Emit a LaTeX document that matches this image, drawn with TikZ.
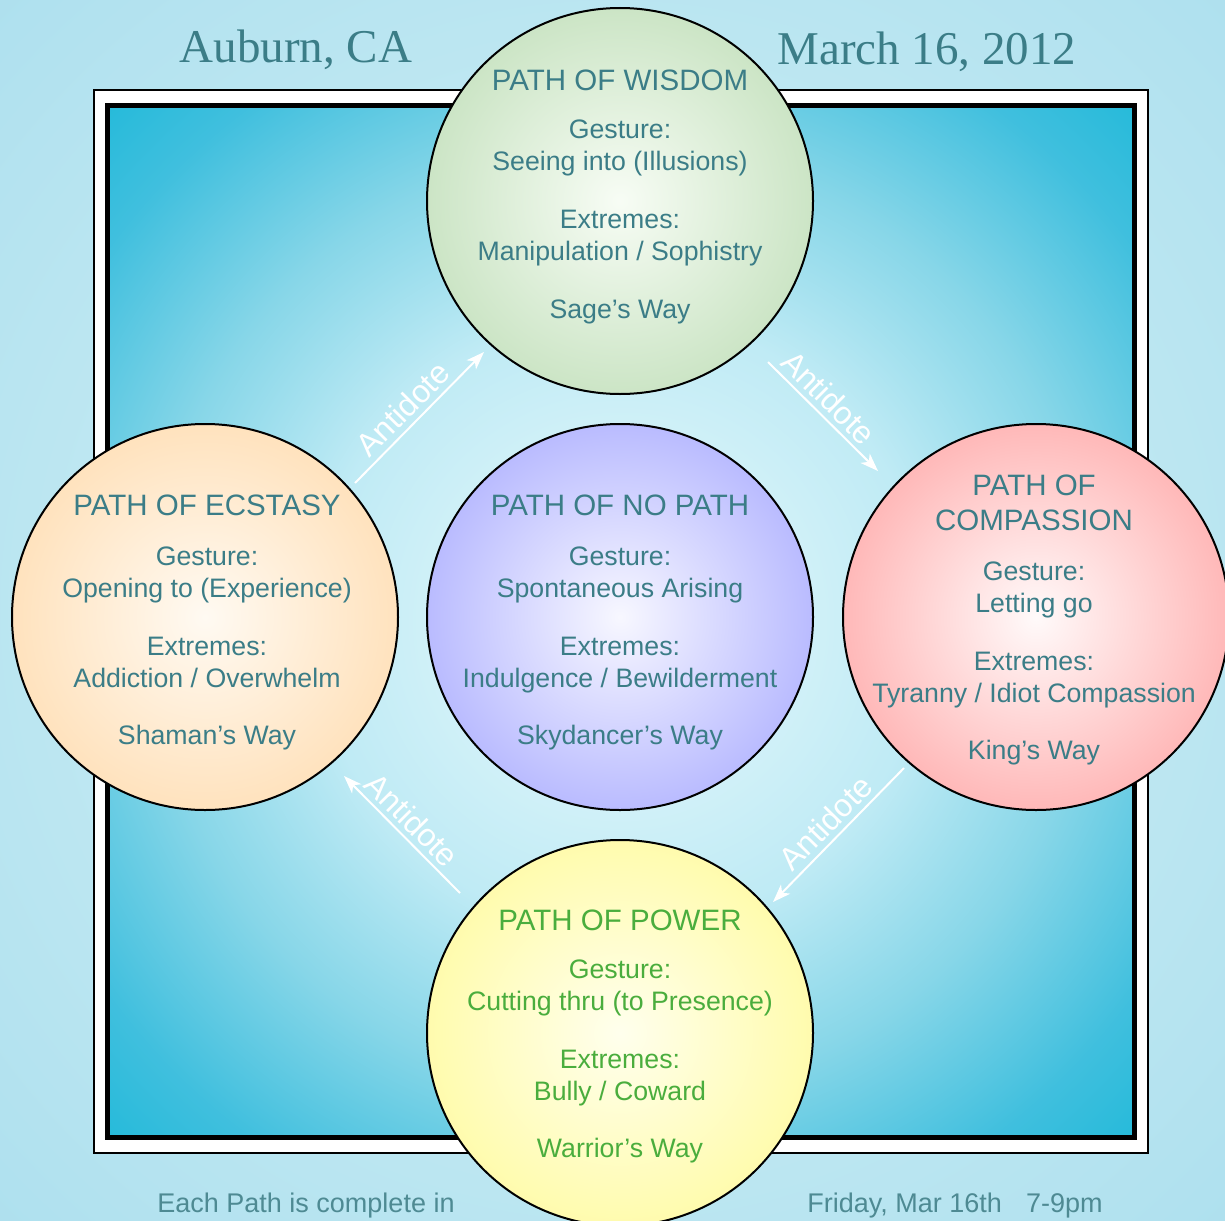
\documentclass[tikz,border=0pt]{standalone}
\usepackage{fontspec}
\setmainfont{Liberation Sans}
\newfontfamily\titlefont{Liberation Serif}
\usetikzlibrary{arrows.meta}

\definecolor{tealtxt}{rgb}{0.23,0.49,0.53}
\definecolor{powertxt}{rgb}{0.29,0.68,0.24}
\definecolor{bgin}{rgb}{0.84,0.95,0.97}
\definecolor{bgout}{rgb}{0.62,0.85,0.92}
\definecolor{sqa}{rgb}{0.92,0.98,0.99}
\definecolor{sqb}{rgb}{0.75,0.92,0.96}
\definecolor{sqc}{rgb}{0.53,0.84,0.91}
\definecolor{sqd}{rgb}{0.25,0.75,0.87}
\definecolor{sqe}{rgb}{0.05,0.71,0.84}
\definecolor{sqf}{rgb}{0.00,0.70,0.83}
\definecolor{grin}{rgb}{0.97,0.99,0.96}
\definecolor{grout}{rgb}{0.73,0.86,0.70}
\definecolor{orin}{rgb}{1.00,0.98,0.95}
\definecolor{orout}{rgb}{1.00,0.85,0.66}
\definecolor{puin}{rgb}{0.97,0.97,1.00}
\definecolor{puout}{rgb}{0.63,0.64,1.00}
\definecolor{rdin}{rgb}{1.00,0.98,0.98}
\definecolor{rdout}{rgb}{1.00,0.62,0.62}
\definecolor{yein}{rgb}{1.00,1.00,0.93}
\definecolor{yeout}{rgb}{1.00,0.98,0.58}

\pgfdeclareradialshading{bgshade}{\pgfpoint{0bp}{0bp}}{color(0bp)=(bgin); color(50bp)=(bgout)}
\pgfdeclareradialshading{sqshade}{\pgfpoint{0bp}{0bp}}{color(0bp)=(sqa); color(15bp)=(sqb); color(23bp)=(sqc); color(31bp)=(sqd); color(40bp)=(sqe); color(50bp)=(sqf)}
\pgfdeclareradialshading{grshade}{\pgfpoint{0bp}{0bp}}{color(0bp)=(grin); color(35bp)=(grout); color(50bp)=(grout)}
\pgfdeclareradialshading{orshade}{\pgfpoint{0bp}{0bp}}{color(0bp)=(orin); color(35bp)=(orout); color(50bp)=(orout)}
\pgfdeclareradialshading{pushade}{\pgfpoint{0bp}{0bp}}{color(0bp)=(puin); color(35bp)=(puout); color(50bp)=(puout)}
\pgfdeclareradialshading{rdshade}{\pgfpoint{0bp}{0bp}}{color(0bp)=(rdin); color(35bp)=(rdout); color(50bp)=(rdout)}
\pgfdeclareradialshading{yeshade}{\pgfpoint{0bp}{0bp}}{color(0bp)=(yein); color(35bp)=(yeout); color(50bp)=(yeout)}

\newcommand\pttl[1]{{\fontsize{29.5}{32}\selectfont #1}}

\tikzset{
  ball/.style={circle, draw=black, line width=2pt, minimum size=386pt, inner sep=0pt},
  pathtxt/.style={align=center, text=tealtxt, font=\fontsize{26.7}{32}\selectfont, inner sep=0pt},
  antiarrow/.style={draw=white, line width=2pt, -{Stealth[length=18pt,width=13pt,inset=5pt]}},
  antilabel/.style={text=white, font=\fontsize{32}{36}\selectfont, inner sep=5pt, sloped, above},
  headline/.style={text=tealtxt, font=\titlefont\fontsize{47}{52}\selectfont, anchor=base, inner sep=0pt},
  footline/.style={text=tealtxt!90!white, font=\fontsize{27}{30}\selectfont, anchor=base, inner sep=0pt},
}

\begin{document}
\begin{tikzpicture}[x=1pt,y=-1pt]
\useasboundingbox (0,0) rectangle (1225,1220);
\shade[shading=bgshade] (0,0) rectangle (1225,1220);

% frame
\draw[fill=white, line width=1.5pt] (94,90) rectangle (1148,1153);
\shade[shading=sqshade] (110,108) rectangle (1132,1135);
\draw[line width=5pt] (107.5,105.5) rectangle (1134.5,1137.5);

% headings
\node[headline] (place) at (296,63) {Auburn, CA};
\node[headline] (date) at (927,65) {March 16, 2012};

% circles
\node[ball, shade, shading=grshade] (wisdom) at (620,201) {};
\node[ball, shade, shading=orshade] (ecstasy) at (205,617) {};
\node[ball, shade, shading=pushade] (nopath) at (620,617) {};
\node[ball, shade, shading=rdshade] (compassion) at (1036,617) {};
\node[ball, shade, shading=yeshade] (power) at (620,1033) {};

% texts
\node[pathtxt] (wisdomtxt) at (620,197) {\pttl{PATH OF WISDOM}\\[16pt]
  Gesture:\\ Seeing into (Illusions)\\[26pt]
  Extremes:\\ Manipulation / Sophistry\\[26pt]
  Sage’s Way};
\node[pathtxt] (ecstasytxt) at (207,622) {\pttl{PATH OF ECSTASY}\\[18pt]
  Gesture:\\ Opening to (Experience)\\[26pt]
  Extremes:\\ Addiction / Overwhelm\\[25pt]
  Shaman’s Way};
\node[pathtxt] (nopathtxt) at (620,622) {\pttl{PATH OF NO PATH}\\[18pt]
  Gesture:\\ Spontaneous Arising\\[26pt]
  Extremes:\\ Indulgence / Bewilderment\\[25pt]
  Skydancer’s Way};
\node[pathtxt] (compassiontxt) at (1034,620) {\pttl{PATH OF}\\[3pt]\pttl{COMPASSION}\\[18pt]
  Gesture:\\ Letting go\\[26pt]
  Extremes:\\ Tyranny / Idiot Compassion\\[25pt]
  King’s Way};
\node[pathtxt, text=powertxt] (powertxt) at (620,1036) {\pttl{PATH OF POWER}\\[16pt]
  Gesture:\\ Cutting thru (to Presence)\\[26pt]
  Extremes:\\ Bully / Coward\\[25pt]
  Warrior’s Way};

% antidote arrows
\coordinate (a1s) at (355,483); \coordinate (a1e) at (484,352);
\coordinate (a2s) at (768,362); \coordinate (a2e) at (878,471);
\coordinate (a3s) at (904,768); \coordinate (a3e) at (773,902);
\coordinate (a4s) at (460,893); \coordinate (a4e) at (344,776);
\draw[antiarrow] (a1s) -- node[antilabel, pos=0.47] (lab1) {Antidote} (a1e);
\draw[antiarrow] (a2s) -- node[antilabel, pos=0.44] (lab2) {Antidote} (a2e);
\draw[antiarrow] (a3s) -- node[antilabel, pos=0.50] (lab3) {Antidote} (a3e);
\draw[antiarrow] (a4s) -- node[antilabel, pos=0.52] (lab4) {Antidote} (a4e);

% footer
\node[footline] (foot1) at (306,1212) {Each Path is complete in};
\node[footline] (foot2) at (955,1212) {Friday, Mar 16th\hspace{24pt}7-9pm};
\end{tikzpicture}
\end{document}
